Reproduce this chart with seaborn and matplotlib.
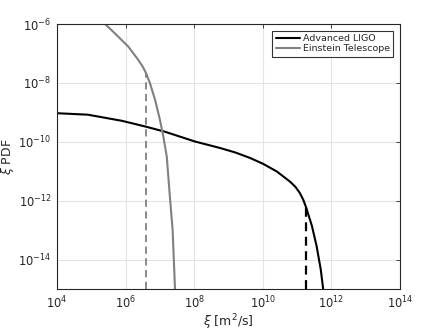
import numpy as np
import pandas as pd
import matplotlib
matplotlib.use("Agg")
import matplotlib.pyplot as plt
import seaborn as sns
from matplotlib.ticker import LogLocator, LogFormatterMathtext, NullLocator

# log10 values
ligo_logx = [4.0, 4.90, 5.90, 6.57, 7.15, 8.02, 8.75, 9.19, 9.63, 10.01, 10.41, 10.79, 10.95, 11.08, 11.18, 11.26, 11.43, 11.57, 11.69, 11.76, 11.78]
ligo_logy = [-9.03, -9.08, -9.29, -9.48, -9.66, -9.99, -10.21, -10.36, -10.55, -10.75, -11.01, -11.35, -11.53, -11.74, -11.97, -12.22, -12.85, -13.55, -14.34, -15.0, -15.2]
et_logx = [5.20, 5.40, 5.69, 6.08, 6.37, 6.50, 6.60, 6.71, 6.86, 7.00, 7.10, 7.20, 7.29, 7.37, 7.44, 7.45]
et_logy = [-5.8, -6.00, -6.32, -6.77, -7.22, -7.45, -7.68, -8.01, -8.58, -9.25, -9.82, -10.50, -11.85, -12.98, -14.98, -15.2]

ligo_cut_logx = 11.26
ligo_cut_logy = -12.22
et_cut_logx = 6.59
et_cut_logy = -7.66

labels = ["Advanced LIGO", "Einstein Telescope"]

df = pd.concat([
    pd.DataFrame({"x": 10.0 ** np.array(ligo_logx), "y": 10.0 ** np.array(ligo_logy), "det": labels[0]}),
    pd.DataFrame({"x": 10.0 ** np.array(et_logx), "y": 10.0 ** np.array(et_logy), "det": labels[1]}),
], ignore_index=True)

sns.set_style("white")
plt.rcParams["font.family"] = ["DejaVu Sans"]
plt.rcParams["mathtext.fontset"] = "dejavusans"

fig = plt.figure(figsize=(4.43, 3.32), dpi=100)
ax = fig.add_axes([57 / 443, 1 - 289 / 332, (400 - 57) / 443, (289 - 24) / 332])

palette = {labels[0]: "#000000", labels[1]: "#808080"}
sns.lineplot(data=df, x="x", y="y", hue="det", palette=palette, sort=False,
             estimator=None, linewidth=1.5, ax=ax)

ax.set_xscale("log")
ax.set_yscale("log")
ax.set_xlim(1e4, 1e14)
ax.set_ylim(1e-15, 1e-6)

ax.plot([10 ** ligo_cut_logx] * 2, [1e-15, 10 ** ligo_cut_logy], color="#000000",
        linestyle=(0, (4, 2.5)), linewidth=1.6)
ax.plot([10 ** et_cut_logx] * 2, [1e-15, 10 ** et_cut_logy], color="#808080",
        linestyle=(0, (4, 2.5)), linewidth=1.3)

ax.xaxis.set_major_locator(LogLocator(base=100.0, numticks=10))
ax.xaxis.set_minor_locator(NullLocator())
ax.yaxis.set_major_formatter(LogFormatterMathtext())
ax.xaxis.set_major_formatter(LogFormatterMathtext())
ax.set_yticks([1e-14, 1e-12, 1e-10, 1e-8, 1e-6])
ax.yaxis.set_minor_locator(NullLocator())

ax.grid(True, color="#e3e3e3", linewidth=0.8)
ax.set_axisbelow(True)
for s in ax.spines.values():
    s.set_color("#262626")
    s.set_linewidth(0.8)
ax.tick_params(direction="in", length=3, width=0.6, colors="#262626",
               labelsize=8.3, top=True, right=True, pad=4)

ax.set_xlabel(r"$\xi$ [m$^2$/s]", fontsize=9, color="#262626", labelpad=1)
ax.set_ylabel(r"$\xi$ PDF", fontsize=9, color="#262626")
ax.yaxis.set_label_coords((16 - 57) / 343, 0.5)

leg = ax.legend(loc="upper right", fontsize=6.8, frameon=True, fancybox=False,
                edgecolor="#000000", borderpad=0.35, handlelength=2.6,
                handletextpad=0.3, labelspacing=0.15, borderaxespad=0.7)
leg.get_frame().set_linewidth(0.8)
leg.set_title(None)

fig.savefig("out.png", dpi=100)
